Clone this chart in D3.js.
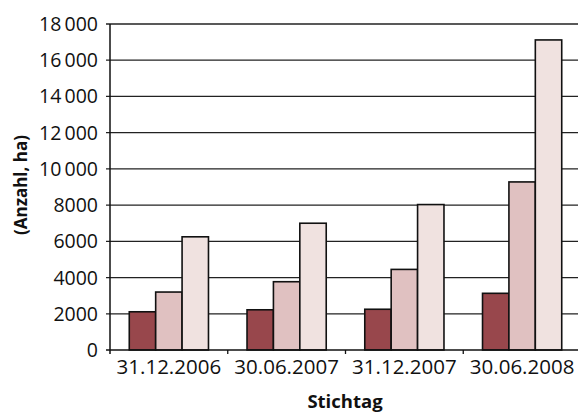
<!DOCTYPE html>
<html>
<head>
<meta charset="utf-8">
<script src="https://cdn.jsdelivr.net/npm/d3@7"></script>
<style>
  body { margin: 0; background: #fff; }
  text { font-family: "Open Sans", sans-serif; }
</style>
</head>
<body>
<div id="chart"></div>
<script>
// data
var categories = ["31.12.2006", "30.06.2007", "31.12.2007", "30.06.2008"];
var series1 = [2110, 2220, 2250, 3130];
var series2 = [3200, 3770, 4450, 9280];
var series3 = [6250, 7000, 8030, 17120];
var yTicks = [0, 2000, 4000, 6000, 8000, 10000, 12000, 14000, 16000, 18000];
var colors = ["#98474c", "#e0c1c1", "#f0e2e0"];

var W = 578, H = 412;
var margin = {top: 24, right: -3, bottom: 62, left: 110};
var width = W - margin.left - margin.right,
    height = H - margin.top - margin.bottom;

var svg = d3.select("#chart").append("svg")
    .attr("width", W).attr("height", H)
  .append("g")
    .attr("transform", "translate(" + margin.left + "," + margin.top + ")");

var x = d3.scaleBand().domain(categories).range([0, width]).paddingInner(0).paddingOuter(0);
var inner = d3.scaleBand().domain([0, 1, 2]).range([0, x.bandwidth()]).paddingInner(0).paddingOuter(0.73);
var y = d3.scaleLinear().domain([0, 18000]).range([height, 0]);

// tick label formatting with a thin space for 5-digit numbers
function fmt(v) {
  if (v >= 10000) return Math.floor(v / 1000) + "\u2009" + "000";
  return String(v);
}

// gridlines
svg.append("g").selectAll("line").data(yTicks.filter(function(d) { return d > 0; }))
  .enter().append("line")
  .attr("x1", -4).attr("x2", width)
  .attr("y1", function(d) { return y(d); })
  .attr("y2", function(d) { return y(d); })
  .attr("stroke", "#222").attr("stroke-width", 1.3);

// y tick labels
svg.append("g").selectAll("text").data(yTicks)
  .enter().append("text")
  .attr("x", -12)
  .attr("y", function(d) { return y(d); })
  .attr("dy", "0.36em")
  .attr("text-anchor", "end")
  .style("font-size", "19.5px")
  .attr("fill", "#111")
  .text(fmt);

// bars
var rows = categories.map(function(c, i) { return {cat: c, vals: [series1[i], series2[i], series3[i]]}; });
var groups = svg.selectAll(".grp").data(rows).enter().append("g")
  .attr("transform", function(d) { return "translate(" + x(d.cat) + ",0)"; });
groups.selectAll("rect")
  .data(function(d) { return d.vals.map(function(v, j) { return {v: v, j: j}; }); })
  .enter().append("rect")
  .attr("x", function(d) { return inner(d.j); })
  .attr("width", inner.bandwidth())
  .attr("y", function(d) { return y(d.v); })
  .attr("height", function(d) { return height - y(d.v); })
  .attr("fill", function(d) { return colors[d.j]; })
  .attr("stroke", "#111").attr("stroke-width", 1.6);

// axes
svg.append("line").attr("x1", 0).attr("x2", 0).attr("y1", 0).attr("y2", height + 4)
  .attr("stroke", "#111").attr("stroke-width", 1.5);
svg.append("line").attr("x1", -4).attr("x2", width).attr("y1", height).attr("y2", height)
  .attr("stroke", "#111").attr("stroke-width", 1.5);
svg.append("g").selectAll("line").data(categories.slice(1))
  .enter().append("line")
  .attr("x1", function(d) { return x(d); }).attr("x2", function(d) { return x(d); })
  .attr("y1", height).attr("y2", height + 4)
  .attr("stroke", "#111").attr("stroke-width", 1.3);

// category labels
svg.append("g").selectAll("text").data(categories)
  .enter().append("text")
  .attr("x", function(d) { return x(d) + x.bandwidth() / 2; })
  .attr("y", height + 24)
  .attr("text-anchor", "middle")
  .style("font-size", "20.5px")
  .attr("fill", "#111")
  .text(function(d) { return d; });

// axis titles
svg.append("text")
  .attr("x", 235).attr("y", height + 58)
  .attr("text-anchor", "middle")
  .style("font-size", "18.5px").style("font-weight", "bold")
  .attr("fill", "#111")
  .text("Stichtag");

svg.append("text")
  .attr("transform", "rotate(-90)")
  .attr("x", -161).attr("y", -83)
  .attr("text-anchor", "middle")
  .style("font-size", "17px").style("font-weight", "bold")
  .attr("fill", "#111")
  .text("(Anzahl, ha)");
</script>
</body>
</html>
